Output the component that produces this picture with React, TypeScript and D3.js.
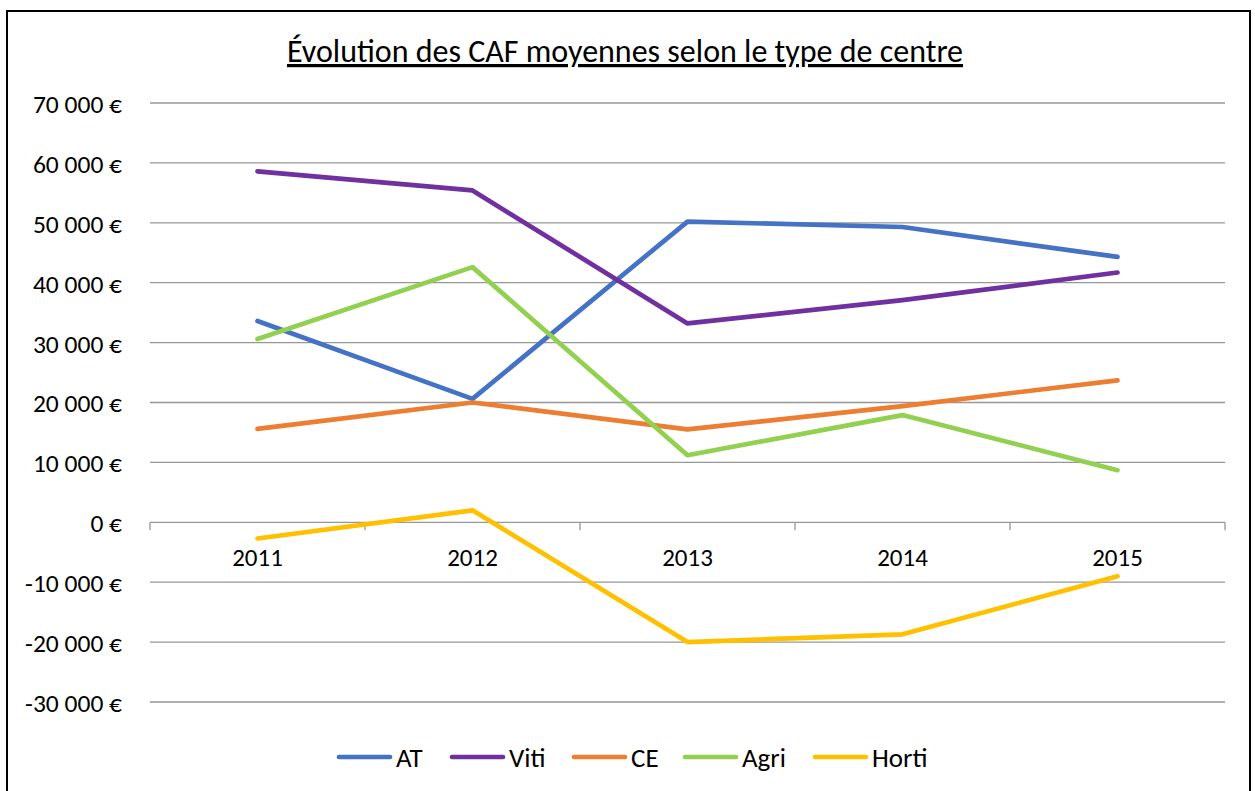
import React from "react";
import * as d3 from "d3";

const years = ["2011", "2012", "2013", "2014", "2015"];
const seriesNames = ["AT", "Viti", "CE", "Agri", "Horti"];
const seriesColors = ["#4472C4", "#7030A0", "#ED7D31", "#92D050", "#FFC000"];
const atValues = [33600, 20600, 50200, 49300, 44300];
const vitiValues = [58600, 55400, 33200, 37100, 41700];
const ceValues = [15600, 20000, 15500, 19400, 23700];
const agriValues = [30600, 42600, 11200, 17900, 8700];
const hortiValues = [-2700, 2000, -20000, -18700, -9000];
const yTicks = [-30000, -20000, -10000, 0, 10000, 20000, 30000, 40000, 50000, 60000, 70000];
const title = "Évolution des CAF moyennes selon le type de centre";

const allSeries = [atValues, vitiValues, ceValues, agriValues, hortiValues];

const FONT = "Carlito, Calibri, Lato, 'Open Sans', sans-serif";

export default function App() {
  const W = 1255, H = 791;
  const left = 150, right = 1225, top = 103, bottom = 702;
  const x = d3.scaleBand<string>().domain(years).range([left, right]);
  const y = d3.scaleLinear().domain([-30000, 70000]).range([bottom, top]);
  const cx = (yr: string) => (x(yr) as number) + x.bandwidth() / 2;
  const fmt = (v: number) => {
    const s = d3.format(",")(Math.abs(v)).replace(/,/g, " ");
    return (v < 0 ? "-" : "") + s + " €";
  };
  const line = d3
    .line<number>()
    .x((_, i) => cx(years[i]))
    .y((d) => y(d));
  const legendX = [339, 452, 574, 685, 815];
  const zeroY = y(0);
  const tickXs = [left, ...years.map((yr) => (x(yr) as number) + x.bandwidth())];

  return (
    <svg
      width={W}
      height={H}
      style={{ position: "absolute", left: 0, top: 0, display: "block", background: "#fff" }}
      fontFamily={FONT}
    >
      <rect x={7} y={11} width={1243} height={800} fill="#fff" stroke="#000" strokeWidth={2} />
      <text x={625} y={62} textAnchor="middle" fontSize={32} fill="#000" textDecoration="underline">
        {title}
      </text>
      {yTicks.map((t) => (
        <g key={t}>
          {t !== 0 && (
            <line x1={left} x2={right} y1={y(t)} y2={y(t)} stroke="#979797" strokeWidth={1.3} />
          )}
          <text x={122} y={y(t) + 1} dy="0.35em" textAnchor="end" fontSize={25.5} fill="#000">
            {fmt(t)}
          </text>
        </g>
      ))}
      <line x1={left} x2={right} y1={zeroY} y2={zeroY} stroke="#979797" strokeWidth={1.3} />
      {tickXs.map((tx, i) => (
        <line key={i} x1={tx} x2={tx} y1={zeroY} y2={zeroY + 8} stroke="#979797" strokeWidth={1.3} />
      ))}
      {years.map((yr) => (
        <text key={yr} x={cx(yr)} y={557} dy="0.35em" textAnchor="middle" fontSize={25} fill="#000">
          {yr}
        </text>
      ))}
      {allSeries.map((vals, i) => (
        <path
          key={seriesNames[i]}
          d={line(vals) || ""}
          fill="none"
          stroke={seriesColors[i]}
          strokeWidth={4.7}
          strokeLinecap="round"
          strokeLinejoin="round"
        />
      ))}
      {seriesNames.map((n, i) => (
        <g key={n}>
          <line
            x1={legendX[i]}
            x2={legendX[i] + 51}
            y1={757}
            y2={757}
            stroke={seriesColors[i]}
            strokeWidth={4.7}
            strokeLinecap="round"
          />
          <text x={legendX[i] + 57} y={758} dy="0.35em" fontSize={27} fill="#000">
            {n}
          </text>
        </g>
      ))}
    </svg>
  );
}
